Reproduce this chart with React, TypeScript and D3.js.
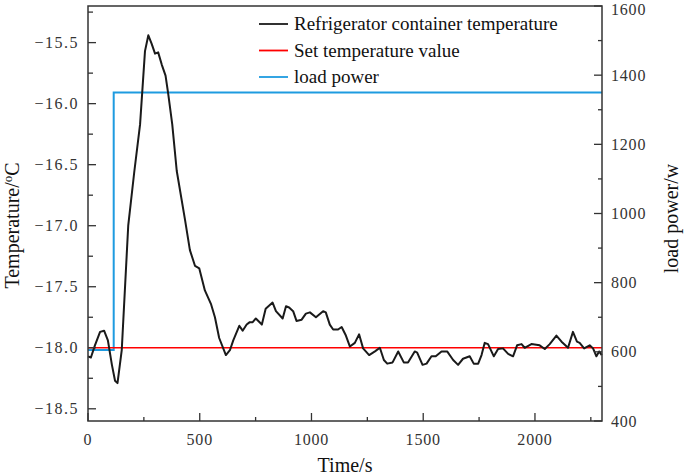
import React from "react";
import * as d3 from "d3";

const timeS: number[] = [0, 13, 31, 54, 72, 89, 107, 121, 132, 151, 180, 207, 233, 255, 270, 285, 300, 314, 330, 347, 359, 377, 397, 434, 456, 479, 498, 523, 550, 568, 587, 617, 635, 650, 677, 692, 710, 724, 737, 751, 778, 795, 826, 841, 871, 886, 900, 918, 933, 956, 975, 993, 1020, 1052, 1064, 1082, 1097, 1119, 1135, 1154, 1172, 1194, 1213, 1231, 1258, 1284, 1306, 1324, 1339, 1363, 1388, 1413, 1432, 1462, 1473, 1497, 1515, 1537, 1556, 1582, 1607, 1634, 1656, 1678, 1708, 1726, 1746, 1761, 1775, 1790, 1816, 1835, 1857, 1880, 1902, 1920, 1940, 1954, 1984, 2021, 2044, 2066, 2096, 2119, 2148, 2170, 2188, 2200, 2220, 2245, 2260, 2275, 2287, 2299];
const containerTemp: number[] = [-18.07, -18.08, -17.98, -17.87, -17.86, -17.94, -18.14, -18.27, -18.29, -18.02, -17.0, -16.56, -16.17, -15.57, -15.44, -15.51, -15.59, -15.58, -15.68, -15.77, -15.92, -16.17, -16.55, -16.95, -17.2, -17.33, -17.35, -17.53, -17.64, -17.75, -17.92, -18.06, -18.02, -17.94, -17.82, -17.86, -17.81, -17.79, -17.79, -17.76, -17.81, -17.68, -17.63, -17.7, -17.76, -17.66, -17.67, -17.7, -17.78, -17.77, -17.72, -17.71, -17.75, -17.7, -17.71, -17.81, -17.85, -17.85, -17.83, -17.9, -17.99, -17.96, -17.89, -18.005, -18.06, -18.03, -18.0, -18.1, -18.13, -18.12, -18.03, -18.12, -18.12, -18.03, -18.04, -18.14, -18.13, -18.07, -18.07, -18.03, -18.03, -18.1, -18.14, -18.09, -18.07, -18.13, -18.13, -18.06, -17.96, -17.97, -18.07, -18.01, -18.005, -18.05, -18.07, -17.98, -17.97, -18.0, -17.97, -17.98, -18.01, -17.97, -17.9, -17.95, -18.0, -17.87, -17.95, -17.96, -18.005, -17.98, -18.005, -18.07, -18.03, -18.06];

const setTime: number[] = [0, 2300];
const setTemp: number[] = [-18.0, -18.0];

const powerTime: number[] = [0, 115, 115, 2300];
const loadPower: number[] = [605, 605, 1350, 1350];

const xTicks: number[] = [0, 500, 1000, 1500, 2000];
const xMinor: number[] = [250, 750, 1250, 1750, 2250];
const yTicks: number[] = [-18.5, -18.0, -17.5, -17.0, -16.5, -16.0, -15.5];
const yMinor: number[] = [-18.25, -17.75, -17.25, -16.75, -16.25, -15.75, -15.25];
const y2Ticks: number[] = [400, 600, 800, 1000, 1200, 1400, 1600];
const y2Minor: number[] = [500, 700, 900, 1100, 1300, 1500];

const legendItems = [
  { label: "Refrigerator container temperature", color: "#1a1a1a" },
  { label: "Set temperature value", color: "#ff0000" },
  { label: "load power", color: "#1e9be0" },
];

const W = 685, H = 476;
const L = 88, R = 602, T = 6, B = 421;

export default function App() {
  const x = d3.scaleLinear().domain([0, 2300]).range([L, R]);
  const y = d3.scaleLinear().domain([-18.6, -15.2]).range([B, T]);
  const y2 = d3.scaleLinear().domain([400, 1600]).range([B, T]);

  const tempLine = d3.line<number>().x((_, i) => x(timeS[i])).y((d) => y(d));
  const setLine = d3.line<number>().x((_, i) => x(setTime[i])).y((d) => y(d));
  const powLine = d3.line<number>().x((_, i) => x(powerTime[i])).y((d) => y2(d));

  const axisColor = "#333";
  const font = "'Liberation Serif', 'Times New Roman', serif";
  const fmt = (v: number) => (v < 0 ? "\u2212" : "") + Math.abs(v).toFixed(1);

  return (
    <svg width={W} height={H} style={{ position: "absolute", left: 0, top: 0, background: "#fff" }} fontFamily={font}>
      <rect x={0} y={0} width={W} height={H} fill="#fff" />
      {/* data */}
      <path d={powLine(loadPower) || ""} fill="none" stroke="#1e9be0" strokeWidth={2} />
      <path d={setLine(setTemp) || ""} fill="none" stroke="#ff0000" strokeWidth={1.5} />
      <path d={tempLine(containerTemp) || ""} fill="none" stroke="#1a1a1a" strokeWidth={2} strokeLinejoin="round" />

      {/* frame */}
      <rect x={L} y={T} width={R - L} height={B - T} fill="none" stroke={axisColor} strokeWidth={1.5} />

      {/* bottom ticks */}
      {xTicks.map((t) => (
        <g key={"x" + t}>
          <line x1={x(t)} x2={x(t)} y1={B} y2={B - 8} stroke={axisColor} strokeWidth={1.3} />
          <text x={x(t)} y={445} fontSize={16} textAnchor="middle" fill="#333" letterSpacing={0.8}>{t}</text>
        </g>
      ))}
      {xMinor.map((t) => (
        <line key={"xm" + t} x1={x(t)} x2={x(t)} y1={B} y2={B - 4} stroke={axisColor} strokeWidth={1.3} />
      ))}

      {/* left ticks */}
      {yTicks.map((t) => (
        <g key={"y" + t}>
          <line x1={L} x2={L + 8} y1={y(t)} y2={y(t)} stroke={axisColor} strokeWidth={1.3} />
          <text x={79} y={y(t)} dy="0.35em" fontSize={16} textAnchor="end" fill="#333" letterSpacing={1.5}>{fmt(t)}</text>
        </g>
      ))}
      {yMinor.map((t) => (
        <line key={"ym" + t} x1={L} x2={L + 5} y1={y(t)} y2={y(t)} stroke={axisColor} strokeWidth={1.3} />
      ))}

      {/* right ticks */}
      {y2Ticks.map((t) => (
        <g key={"y2" + t}>
          <line x1={R} x2={R - 8} y1={y2(t)} y2={y2(t)} stroke={axisColor} strokeWidth={1.3} />
          <text x={611} y={Math.max(y2(t), 9)} dy="0.35em" fontSize={16} textAnchor="start" fill="#333" letterSpacing={0.8}>{t}</text>
        </g>
      ))}
      {y2Minor.map((t) => (
        <line key={"y2m" + t} x1={R} x2={R - 4} y1={y2(t)} y2={y2(t)} stroke={axisColor} strokeWidth={1.3} />
      ))}

      {/* axis titles */}
      <text x={(L + R) / 2} y={472} fontSize={20} textAnchor="middle" fill="#111">Time/s</text>
      <text transform={`translate(19, ${(T + B) / 2 + 12}) rotate(-90)`} fontSize={20} textAnchor="middle" fill="#111">
        Temperature/<tspan fontSize={13} dy={-7}>o</tspan><tspan dy={7}>C</tspan>
      </text>
      <text transform={`translate(678, ${(T + B) / 2 + 5}) rotate(-90)`} fontSize={20} textAnchor="middle" fill="#111">load power/w</text>

      {/* legend */}
      {legendItems.map((it, i) => (
        <g key={it.label} transform={`translate(259, ${24 + i * 26.5})`}>
          <line x1={0} x2={29} y1={0} y2={0} stroke={it.color} strokeWidth={1.8} />
          <text x={35} y={0} dy="0.33em" fontSize={19} fill="#111">{it.label}</text>
        </g>
      ))}
    </svg>
  );
}
